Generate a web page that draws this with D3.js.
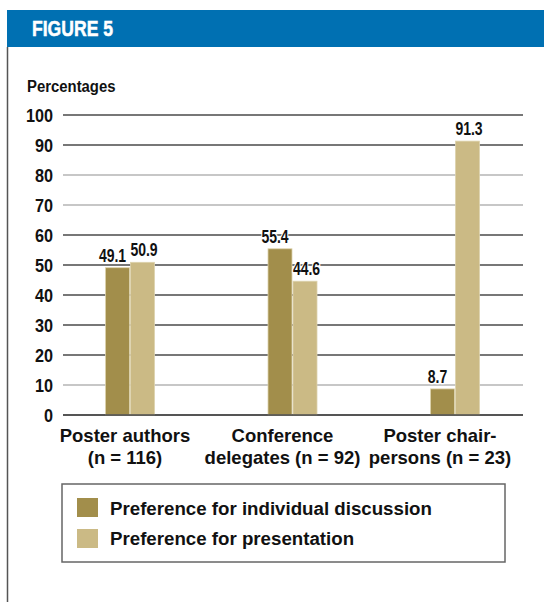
<!DOCTYPE html>
<html>
<head>
<meta charset="utf-8">
<script src="https://cdn.jsdelivr.net/npm/d3@7"></script>
<style>
  html, body { margin: 0; padding: 0; background: #fff; }
  svg { display: block; }
  text { font-family: "Liberation Sans", Arial, Helvetica, sans-serif; font-weight: bold; }
</style>
</head>
<body>
<svg id="chart" width="544" height="602"></svg>
<script>
// Survey groups and their preference shares (%)
const categories = ["Poster authors", "Conference delegates", "Poster chairpersons"];
const categoryLines = [["Poster authors", "(n = 116)"], ["Conference", "delegates (n = 92)"], ["Poster chair-", "persons (n = 23)"]];
const individualDiscussion = [49.1, 55.4, 8.7];
const presentation = [50.9, 44.6, 91.3];
const seriesNames = ["Preference for individual discussion", "Preference for presentation"];
const yTicks = [0, 10, 20, 30, 40, 50, 60, 70, 80, 90, 100];

const colors = ["#a28e4b", "#cbba85"];

const svg = d3.select("#chart");

// Squeeze a text element horizontally to a fraction of its natural width
function condense(sel, k) {
  sel.each(function () {
    const w = this.getComputedTextLength();
    d3.select(this).attr("textLength", w * k).attr("lengthAdjust", "spacingAndGlyphs");
  });
}

// Header band
svg.append("rect").attr("x", 7).attr("y", 10).attr("width", 537).attr("height", 37).attr("fill", "#0070b2");
svg.append("text").attr("x", 32).attr("y", 36).attr("fill", "#fff")
  .attr("font-size", 22).attr("textLength", 81).attr("lengthAdjust", "spacingAndGlyphs")
  .attr("stroke", "#fff").attr("stroke-width", 0.5)
  .text("FIGURE 5");

// Left frame rule
svg.append("line").attr("x1", 7.5).attr("x2", 7.5).attr("y1", 47).attr("y2", 602)
  .attr("stroke", "#555").attr("stroke-width", 1.5);

// Scales
const y = d3.scaleLinear().domain([0, 100]).range([415, 115]);
const x = d3.scalePoint().domain(categories).range([130, 455]);
const labelX = d3.scalePoint().domain(categories).range([125, 440]);
const barW = 24;

// Gridlines
const lightTicks = new Set([10, 70, 80]);
svg.append("g").selectAll("line").data(yTicks).join("line")
  .attr("x1", 63).attr("x2", 523)
  .attr("y1", d => y(d)).attr("y2", d => y(d))
  .attr("stroke", d => lightTicks.has(d) ? "#b5b5b5" : "#4a4a4a")
  .attr("stroke-width", 1.7);

// Y axis tick labels
const yAxis = d3.axisLeft(y).tickValues(yTicks).tickSize(0).tickPadding(0);
const yg = svg.append("g").attr("transform", "translate(53,0)").call(yAxis);
yg.select(".domain").remove();
yg.selectAll("text").attr("font-size", 18).attr("fill", "#111")
  .attr("font-family", "'Liberation Sans', Arial, sans-serif").attr("font-weight", "bold")
  .attr("dy", "0.36em")
  .call(condense, 0.9);

svg.append("text").attr("x", 27).attr("y", 92).attr("font-size", 16).attr("fill", "#111")
  .text("Percentages").call(condense, 0.93);

// Bars
const series = [individualDiscussion, presentation];
series.forEach((vals, si) => {
  svg.append("g").selectAll("rect").data(vals).join("rect")
    .attr("x", (d, i) => x(categories[i]) + (si === 0 ? -barW - 0.5 : 0.5))
    .attr("y", d => y(d))
    .attr("width", barW)
    .attr("height", d => y(0) - y(d))
    .attr("fill", colors[si])
    .attr("stroke", "#ddd3ad").attr("stroke-width", 0.8);
});

// Zero line redrawn over bar bottoms
svg.append("line").attr("x1", 63).attr("x2", 523).attr("y1", y(0)).attr("y2", y(0))
  .attr("stroke", "#4a4a4a").attr("stroke-width", 1.7);

// Value labels
series.forEach((vals, si) => {
  svg.append("g").selectAll("text").data(vals).join("text")
    .attr("x", (d, i) => x(categories[i]) + (si === 0 ? -barW / 2 - 5.5 : barW / 2 + 2))
    .attr("y", d => y(d) - 6)
    .attr("text-anchor", "middle")
    .attr("font-size", 17.5).attr("fill", "#111")
    .attr("stroke", "#fff").attr("stroke-width", 2.5).attr("stroke-linejoin", "round")
    .attr("paint-order", "stroke")
    .text(d => d.toFixed(1))
    .call(condense, 0.8);
});

// Category labels
const cg = svg.append("g");
categories.forEach((c, i) => {
  const t = cg.append("text").attr("text-anchor", "middle").attr("font-size", 18.5).attr("fill", "#111");
  categoryLines[i].forEach((line, li) => {
    t.append("tspan").attr("x", labelX(c)).attr("y", 442 + li * 22).text(line);
  });
});

// Legend
const lg = svg.append("g");
lg.append("rect").attr("x", 62).attr("y", 484).attr("width", 443).attr("height", 78)
  .attr("fill", "#fff").attr("stroke", "#666").attr("stroke-width", 1.5);
seriesNames.forEach((name, i) => {
  lg.append("rect").attr("x", 77).attr("y", 498 + i * 31).attr("width", 21).attr("height", 19)
    .attr("fill", colors[i]);
  lg.append("text").attr("x", 110).attr("y", 515 + i * 30).attr("font-size", 18.7).attr("fill", "#111")
    .text(name);
});
</script>
</body>
</html>
